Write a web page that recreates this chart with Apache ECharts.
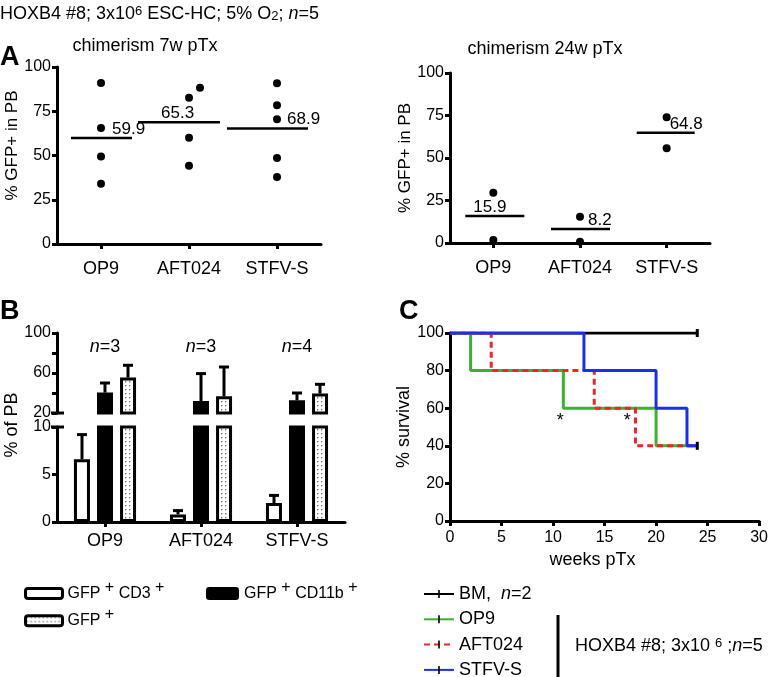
<!DOCTYPE html>
<html><head><meta charset="utf-8">
<script src="https://cdn.jsdelivr.net/npm/echarts@6/dist/echarts.min.js"></script>
<style>html,body{margin:0;padding:0;background:#fff}#c{width:771px;height:677px}</style>
</head><body><div id="c"></div>
<script>
// ---------------- DATA ----------------
const categories = ['OP9', 'AFT024', 'STFV-S'];
// Panel A (left): chimerism 7 weeks post transplant, % GFP+ in PB
const chim7_OP9 = [91.0, 65.5, 49.5, 34.0];
const chim7_AFT024 = [82.6, 88.3, 60.0, 44.2];
const chim7_STFVS = [90.8, 78.4, 70.5, 48.6, 37.9];
const chim7_meanLines = [59.9, 68.8, 65.2];
const chim7_meanLabels = ['59.9', '65.3', '68.9'];
// Panel A (right): chimerism 24 weeks post transplant
const chim24_OP9 = [29.5, 1.8];
const chim24_AFT024 = [15.5, 0.8];
const chim24_STFVS = [73.9, 55.7];
const chim24_meanLines = [15.9, 8.2, 64.8];
const chim24_meanLabels = ['15.9', '8.2', '64.8'];
// Panel B: % of PB (mean and SEM)
const cd3_mean = [6.6, 0.8, 2.0];
const cd3_sem = [2.6, 0.4, 0.8];
const cd11b_mean = [40.4, 32.0, 32.7];
const cd11b_sem = [9.6, 27.4, 7.3];
const gfp_mean = [55.4, 36.7, 39.4];
const gfp_sem = [12.3, 29.3, 9.3];
const nMice = [3, 3, 4];
// Panel C: Kaplan-Meier survival
const weeks_BM = [0, 24];            const surv_BM = [100, 100];
const weeks_OP9 = [0, 2, 11, 20, 24];  const surv_OP9 = [100, 80, 60, 40, 40];
const weeks_AFT024 = [0, 4, 14, 18, 24]; const surv_AFT024 = [100, 80, 60, 40, 40];
const weeks_STFVS = [0, 13, 20, 23, 24]; const surv_STFVS = [100, 80, 60, 40, 40];
const censor_weeks = [24, 24];       const censor_surv = [100, 40];
const star_weeks = [10.7, 17.2];

// ---------------- STYLE ----------------
const FONT = '"Liberation Sans", Arial, Helvetica, sans-serif';
const BLACK = '#000';
const zip = (a, b) => a.map((v, i) => [v, b[i]]);
const axLine = { show: true, onZero: false, lineStyle: { color: BLACK, width: 3 } };
const axTick = { show: true, length: 5, lineStyle: { color: BLACK, width: 3 } };
const tickLab = { color: BLACK, fontFamily: FONT, fontSize: 16, margin: 6 };
const catLab = { color: BLACK, fontFamily: FONT, fontSize: 18, margin: 16 };

// dotted pattern for GFP+ bars
const pc = document.createElement('canvas');
pc.width = 4; pc.height = 4;
const pctx = pc.getContext('2d');
pctx.fillStyle = '#fff'; pctx.fillRect(0, 0, 4, 4);
pctx.fillStyle = '#777'; pctx.fillRect(1, 1, 1.4, 1.4);
const dotted = { image: pc, repeat: 'repeat' };

const vtick = 'path://M0,0 M10,10 M4,0 L6,0 L6,10 L4,10 Z';

// offsets of jittered dots (px)
const jit7 = { 1: [0, 11, 0, 0] };

function dots(arrs, jit) {
  const out = [];
  arrs.forEach((arr, c) => arr.forEach((v, k) => {
    const o = jit && jit[c] ? jit[c][k] : 0;
    out.push({ value: [c, v], symbolOffset: [o, 0] });
  }));
  return out;
}

function meanSeries(xi, yi, means, labels, spans, labelDx) {
  return {
    type: 'custom', xAxisIndex: xi, yAxisIndex: yi, z: 4,
    data: means.map((m, i) => [i, m]),
    renderItem: (params, api) => {
      const i = api.value(0);
      const p = api.coord([i, api.value(1)]);
      const sp = spans[i];
      return { type: 'group', children: [
        { type: 'line', shape: { x1: p[0] + sp[0], y1: p[1], x2: p[0] + sp[1], y2: p[1] },
          style: { stroke: BLACK, lineWidth: 2.5 } },
        { type: 'text', style: { text: labels[i], x: p[0] + labelDx[i], y: p[1] - 9,
          align: 'left', verticalAlign: 'middle', font: '17px ' + FONT, fill: BLACK } }
      ] };
    }
  };
}

const BAR_STEP = 23;
function errSeries(xi, yi, means, sems, dx) {
  return {
    type: 'custom', xAxisIndex: xi, yAxisIndex: yi, z: 5, clip: true,
    data: means.map((m, i) => [i, m, m + sems[i]]),
    renderItem: (params, api) => {
      const lo = api.coord([api.value(0), api.value(1)]);
      const hi = api.coord([api.value(0), api.value(2)]);
      const x = lo[0] + dx;
      return { type: 'group', children: [
        { type: 'line', shape: { x1: x, y1: lo[1], x2: x, y2: hi[1] }, style: { stroke: BLACK, lineWidth: 3 } },
        { type: 'line', shape: { x1: x - 5, y1: hi[1], x2: x + 5, y2: hi[1] }, style: { stroke: BLACK, lineWidth: 3 } }
      ] };
    }
  };
}

function barSet(xi, yi) {
  const common = { type: 'bar', xAxisIndex: xi, yAxisIndex: yi, barWidth: 16, barGap: '44%', clip: true };
  return [
    Object.assign({ name: 'GFP+ CD3+', data: cd3_mean,
      itemStyle: { color: '#fff', borderColor: BLACK, borderWidth: 3 } }, common),
    Object.assign({ name: 'GFP+ CD11b+', data: cd11b_mean,
      itemStyle: { color: BLACK, borderColor: BLACK, borderWidth: 3 } }, common),
    Object.assign({ name: 'GFP+', data: gfp_mean,
      itemStyle: { color: dotted, borderColor: BLACK, borderWidth: 3 } }, common)
  ];
}

function survLine(name, w, s, color, type, z) {
  return {
    type: 'line', name, xAxisIndex: 4, yAxisIndex: 4, step: 'end', z,
    data: zip(w, s), symbol: vtick, symbolSize: 8, showSymbol: false,
    lineStyle: { color, width: 3, type }, itemStyle: { color }
  };
}

const supRich = {
  b: { fontFamily: FONT, fontSize: 16, color: BLACK, lineHeight: 28 },
  s: { fontFamily: FONT, fontSize: 16, color: BLACK, lineHeight: 6, verticalAlign: 'top' }
};
const barLegendText = {
  'GFP+ CD3+': '{b|GFP}{s| +}{b| CD3}{s| +}',
  'GFP+ CD11b+': '{b|GFP}{s| +}{b| CD11b}{s| +}',
  'GFP+': '{b|GFP}{s| +}'
};

const chart = echarts.init(document.getElementById('c'), null, { renderer: 'canvas' });

const option = {
  animation: false,
  backgroundColor: '#fff',
  textStyle: { fontFamily: FONT },
  grid: [
    { left: 57, top: 67, width: 264, height: 177 },
    { left: 450, top: 73, width: 260, height: 170 },
    { left: 57, top: 333, width: 288, height: 80 },
    { left: 57, top: 427, width: 288, height: 95 },
    { left: 450, top: 333, width: 312, height: 188 }
  ],
  xAxis: [
    { type: 'category', gridIndex: 0, data: categories, axisLine: axLine,
      axisTick: Object.assign({ alignWithLabel: true }, axTick), axisLabel: catLab },
    { type: 'category', gridIndex: 1, data: categories, axisLine: axLine,
      axisTick: Object.assign({ alignWithLabel: true }, axTick), axisLabel: catLab },
    { type: 'category', gridIndex: 2, data: categories, show: false },
    { type: 'category', gridIndex: 3, data: categories, axisLine: axLine,
      axisTick: Object.assign({ alignWithLabel: true }, axTick), axisLabel: Object.assign({}, catLab, { margin: 10 }) },
    { type: 'value', gridIndex: 4, min: 0, max: 30, interval: 5, axisLine: axLine, axisTick: axTick,
      axisLabel: Object.assign({}, tickLab, { margin: 9 }), splitLine: { show: false },
      name: 'weeks pTx', nameLocation: 'middle', nameGap: 30,
      nameTextStyle: { color: BLACK, fontFamily: FONT, fontSize: 18, padding: [0, 24, 0, 0] } }
  ],
  yAxis: [
    { type: 'value', gridIndex: 0, min: 0, max: 100, interval: 25, axisLine: axLine, axisTick: axTick,
      axisLabel: tickLab, splitLine: { show: false },
      name: '% GFP+ in PB', nameLocation: 'middle', nameGap: 36,
      nameTextStyle: { color: BLACK, fontFamily: FONT, fontSize: 17, padding: [0, 0, 0, 20] } },
    { type: 'value', gridIndex: 1, min: 0, max: 100, interval: 25, axisLine: axLine, axisTick: axTick,
      axisLabel: tickLab, splitLine: { show: false },
      name: '% GFP+ in PB', nameLocation: 'middle', nameGap: 31,
      nameTextStyle: { color: BLACK, fontFamily: FONT, fontSize: 17 } },
    { type: 'value', gridIndex: 2, min: 20, max: 100, interval: 20, axisLine: axLine, axisTick: axTick,
      axisLabel: Object.assign({}, tickLab, { formatter: v => (v === 40 || v === 80) ? '' : String(v) }),
      splitLine: { show: false } },
    { type: 'value', gridIndex: 3, min: 0, max: 10, interval: 5, axisLine: axLine, axisTick: axTick,
      axisLabel: tickLab, splitLine: { show: false } },
    { type: 'value', gridIndex: 4, min: 0, max: 100, interval: 20, axisLine: axLine, axisTick: axTick,
      axisLabel: tickLab, splitLine: { show: false },
      name: '% survival', nameLocation: 'middle', nameGap: 37,
      nameTextStyle: { color: BLACK, fontFamily: FONT, fontSize: 18 } }
  ],
  legend: [
    { data: ['BM', 'OP9', 'AFT024', 'STFV-S'], orient: 'vertical', left: 423, top: 585, height: 120,
      padding: 0, itemWidth: 30, itemHeight: 10, itemGap: 7.3, selectedMode: false,
      itemStyle: { color: BLACK, borderWidth: 0 },
      textStyle: { color: BLACK, fontFamily: FONT, fontSize: 18,
        rich: { i: { fontStyle: 'italic', fontFamily: FONT, fontSize: 18, color: BLACK } } },
      formatter: n => n === 'BM' ? 'BM,  {i|n}=2' : n },
    { data: ['GFP+ CD3+'], left: 24, top: 579.5, padding: 0, itemWidth: 37, itemHeight: 10, selectedMode: false,
      itemStyle: { borderWidth: 3, borderColor: BLACK },
      textStyle: { rich: supRich }, formatter: n => barLegendText[n] },
    { data: ['GFP+ CD11b+'], left: 206, top: 579.5, padding: 0, itemWidth: 33, itemHeight: 13, selectedMode: false,
      itemStyle: { borderWidth: 0 },
      textStyle: { rich: supRich }, formatter: n => barLegendText[n] },
    { data: ['GFP+'], left: 24, top: 606.7, padding: 0, itemWidth: 37, itemHeight: 10, selectedMode: false,
      itemStyle: { borderWidth: 3, borderColor: BLACK },
      textStyle: { rich: supRich }, formatter: n => barLegendText[n] }
  ],
  series: [
    // Panel A left
    { type: 'scatter', xAxisIndex: 0, yAxisIndex: 0, symbolSize: 8, itemStyle: { color: BLACK, opacity: 1 },
      data: dots([chim7_OP9, chim7_AFT024, chim7_STFVS], jit7) },
    meanSeries(0, 0, chim7_meanLines, chim7_meanLabels, [[-30, 31], [-51, 31], [-50, 31]], [11, -28, 10]),
    // Panel A right
    { type: 'scatter', xAxisIndex: 1, yAxisIndex: 1, symbolSize: 8, itemStyle: { color: BLACK, opacity: 1 },
      data: dots([chim24_OP9, chim24_AFT024, chim24_STFVS]) },
    meanSeries(1, 1, chim24_meanLines, chim24_meanLabels, [[-28, 31], [-29, 30], [-30, 28]], [-20, 8, 3]),
    // Panel B
    ...barSet(2, 2),
    ...barSet(3, 3),
    errSeries(3, 3, cd3_mean, cd3_sem, -BAR_STEP),
    errSeries(2, 2, cd11b_mean, cd11b_sem, 0),
    errSeries(2, 2, gfp_mean, gfp_sem, BAR_STEP),
    { type: 'custom', xAxisIndex: 2, yAxisIndex: 2, data: nMice.map((n, i) => [i, n]),
      renderItem: (params, api) => {
        const p = api.coord([api.value(0), 86]);
        return { type: 'text', style: { text: '{i|n}=' + api.value(1), x: p[0], y: p[1],
          align: 'center', verticalAlign: 'middle', font: '18px ' + FONT, fill: BLACK,
          rich: { i: { fontStyle: 'italic', fontFamily: FONT, fontSize: 18, fill: BLACK } } } };
      } },
    // Panel C
    survLine('BM', weeks_BM, surv_BM, '#000', 'solid', 2),
    survLine('OP9', weeks_OP9, surv_OP9, '#3cb034', 'solid', 3),
    survLine('AFT024', weeks_AFT024, surv_AFT024, '#e8262b', [6, 4], 4),
    survLine('STFV-S', weeks_STFVS, surv_STFVS, '#1e2ee6', 'solid', 5),
    { type: 'scatter', xAxisIndex: 4, yAxisIndex: 4, z: 6, symbol: 'rect', symbolSize: [3, 8],
      itemStyle: { color: BLACK, opacity: 1 }, data: zip(censor_weeks, censor_surv), silent: true },
    { type: 'custom', xAxisIndex: 4, yAxisIndex: 4, z: 6, data: star_weeks.map(w => [w, 55]),
      renderItem: (params, api) => {
        const p = api.coord([api.value(0), api.value(1)]);
        return { type: 'text', style: { text: '*', x: p[0], y: p[1] + 3, align: 'center', verticalAlign: 'middle',
          font: '18px ' + FONT, fill: BLACK } };
      } }
  ]
};
chart.setOption(option);

// decorations: axis breaks, panel letters, titles, header, legend bracket
const yBreakUp = chart.convertToPixel({ yAxisIndex: 2 }, 20);
const yBreakLo = chart.convertToPixel({ yAxisIndex: 3 }, 10);
const headerRich = {
  b: { fontFamily: FONT, fontSize: 18, fill: BLACK, lineHeight: 18, verticalAlign: 'middle' },
  sup: { fontFamily: FONT, fontSize: 13, fill: BLACK, lineHeight: 13, verticalAlign: 'top', padding: [0, 0, 9, 0] },
  sub: { fontFamily: FONT, fontSize: 13, fill: BLACK, lineHeight: 13, verticalAlign: 'bottom', padding: [8, 0, 0, 0] },
  i: { fontFamily: FONT, fontSize: 18, fill: BLACK, fontStyle: 'italic', lineHeight: 18 }
};
chart.setOption({
  graphic: [
    { type: 'line', shape: { x1: 51, y1: yBreakUp, x2: 64, y2: yBreakUp }, style: { stroke: BLACK, lineWidth: 3 } },
    { type: 'line', shape: { x1: 51, y1: yBreakLo, x2: 64, y2: yBreakLo }, style: { stroke: BLACK, lineWidth: 3 } },
    { type: 'text', x: 0, y: 58, style: { text: 'A', font: 'bold 27px ' + FONT, fill: BLACK, verticalAlign: 'middle' } },
    { type: 'text', x: 0, y: 312, style: { text: 'B', font: 'bold 27px ' + FONT, fill: BLACK, verticalAlign: 'middle' } },
    { type: 'text', x: 399, y: 312, style: { text: 'C', font: 'bold 27px ' + FONT, fill: BLACK, verticalAlign: 'middle' } },
    { type: 'text', x: 145, y: 46, style: { text: 'chimerism 7w pTx', font: '18px ' + FONT, fill: BLACK, align: 'center', verticalAlign: 'middle' } },
    { type: 'text', x: 545, y: 49, style: { text: 'chimerism 24w pTx', font: '18px ' + FONT, fill: BLACK, align: 'center', verticalAlign: 'middle' } },
    { type: 'text', x: 12, y: 425, rotation: Math.PI / 2,
      style: { text: '% of PB', font: '18px ' + FONT, fill: BLACK, align: 'center', verticalAlign: 'middle' } },
    { type: 'text', x: 0, y: 14, style: {
      text: '{b|HOXB4 #8; 3x10}{sup|6}{b| ESC-HC; 5% O}{sub|2}{b|; }{i|n}{b|=5}',
      rich: headerRich, verticalAlign: 'middle' } },
    { type: 'line', shape: { x1: 558, y1: 615, x2: 558, y2: 677 }, style: { stroke: BLACK, lineWidth: 3 } },
    { type: 'text', x: 575, y: 646, style: {
      text: '{b|HOXB4 #8; 3x10 }{sup|6}{b| ;}{i|n}{b|=5}',
      rich: headerRich, verticalAlign: 'middle' } }
  ]
});
</script>
</body></html>
